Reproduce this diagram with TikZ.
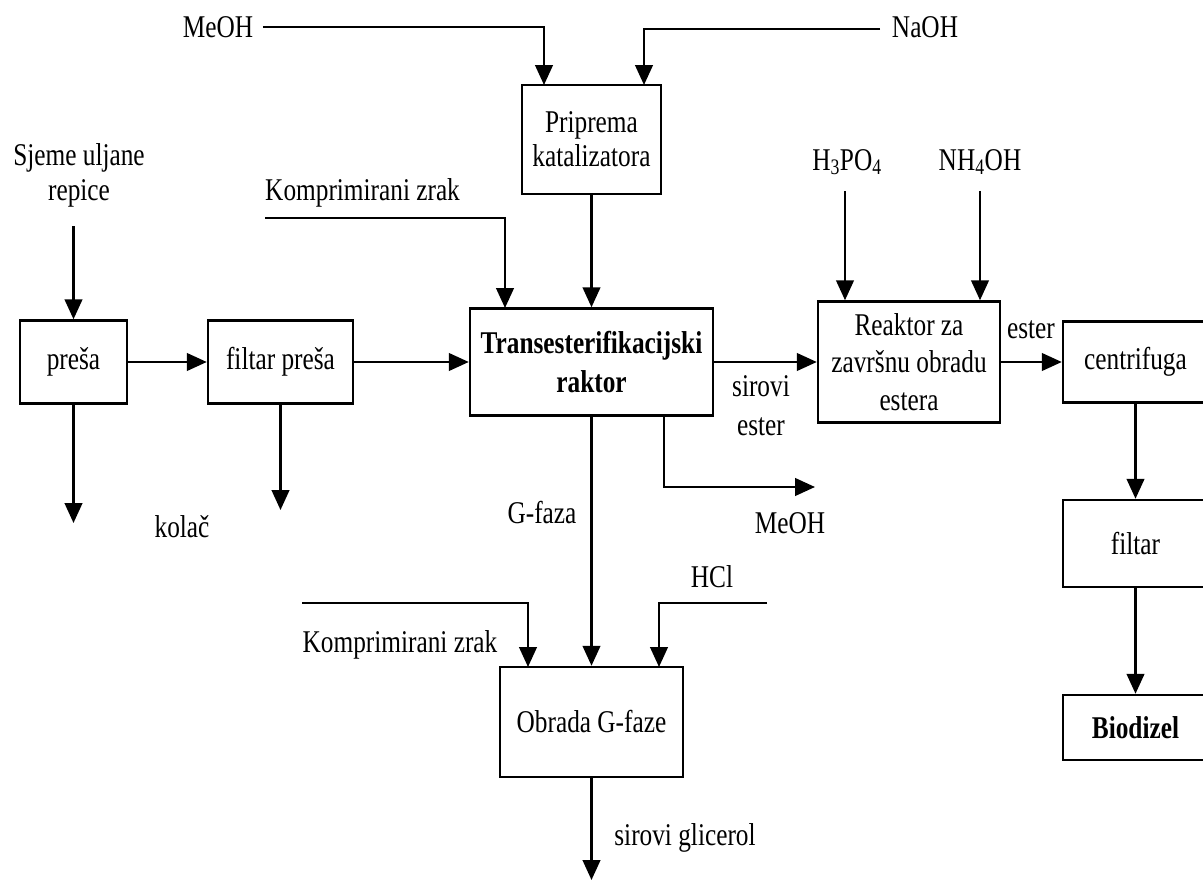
\documentclass[tikz,border=0pt]{standalone}
\usepackage{fontspec}
\setmainfont{Liberation Serif}[FakeStretch=0.8]
\usetikzlibrary{arrows.meta,calc}
\begin{document}
\begin{tikzpicture}[x=0.03cm,y=-0.03cm,
  txt/.style={font=\fontsize{27}{29}\selectfont},
  box/.style={txt,draw,line width=2.1pt,align=center,inner sep=0pt},
  lbl/.style={txt,align=center,inner sep=0pt},
  arr/.style={line width=2pt,-{Triangle[width=15pt,length=17pt]}}]
\clip (0,0) rectangle (1203,881);
\fill[white] (0,0) rectangle (1203,881);

% boxes
\node[box,minimum width=4.17cm,minimum height=3.27cm] (prip) at (591.5,139.5) {Priprema\\katalizatora};
\node[box,minimum width=3.21cm,minimum height=2.49cm] (presa) at (73.5,362) {preša};
\node[box,minimum width=4.35cm,minimum height=2.49cm] (filt) at (280.5,362) {filtar preša};
\node[box,minimum width=7.29cm,minimum height=3.21cm,font=\fontsize{27}{34}\selectfont\bfseries] (trans) at (591.5,362) {Transesterifikacijski\\raktor};
\node[box,minimum width=5.46cm,minimum height=3.63cm,font=\fontsize{27}{32}\selectfont] (reak) at (909,362) {Reaktor za\\završnu obradu\\estera};
\node[box,minimum width=5.49cm,minimum height=3.30cm] (obr) at (591.5,722) {Obrada G-faze};
\node[box,minimum width=4.35cm,minimum height=2.43cm] (centr) at (1135.5,362) {centrifuga};
\node[box,minimum width=4.35cm,minimum height=2.61cm] (filtar) at (1135.5,543.5) {filtar};
\node[box,minimum width=4.35cm,minimum height=1.95cm,font=\fontsize{27}{29}\selectfont\bfseries] (bio) at (1135.5,727.5) {Biodizel};

% labels
\node[lbl] (meoh) at (218,27) {MeOH};
\node[lbl] (naoh) at (925,27) {NaOH};
\node[lbl,font=\fontsize{27}{30}\selectfont] (sjeme) at (79,175) {Sjeme uljane\\repice};
\node[lbl,anchor=west] (kz1) at (265,193) {Komprimirani zrak};
\node[lbl] (h3po4) at (847,162) {H\textsubscript{3}PO\textsubscript{4}};
\node[lbl] (nh4oh) at (980,162) {NH\textsubscript{4}OH};
\node[lbl,font=\fontsize{27}{33}\selectfont] (sester) at (761,406) {sirovi\\ester};
\node[lbl] (ester) at (1031,330) {ester};
\node[lbl] (kolac) at (182,527) {kolač};
\node[lbl] (gfaza) at (542,513) {G-faza};
\node[lbl] (meoh2) at (790,523) {MeOH};
\node[lbl] (hcl) at (712,577) {HCl};
\node[lbl] (kz2) at (400,645) {Komprimirani zrak};
\node[lbl] (glic) at (685,838) {sirovi glicerol};

% free ends and feed points
\coordinate (pA) at (544,85);
\coordinate (pB) at (644,85);
\coordinate (k1s) at (265,218);
\coordinate (pC) at (505,308);
\coordinate (presaout) at (73.5,523);
\coordinate (filtout) at (280.5,510);
\coordinate (tm) at (664,415);
\coordinate (meohout) at (815,487);
\coordinate (k2s) at (302,603);
\coordinate (pD) at (528,667);
\coordinate (h1s) at (767,603);
\coordinate (pE) at (659,667);
\coordinate (glyout) at (591.5,880);
\coordinate (naohs) at (880,29);

% connectors
\draw[arr] ([xshift=8pt]meoh.east) -| (pA);
\draw[arr] (naohs) -| (pB);
\draw[arr] (prip.south) -- (trans.north);
\draw[arr] (k1s) -| (pC);
\draw[arr] ($(sjeme.south -| presa.north)+(0,19)$) -- (presa.north);
\draw[arr] (presa.south) -- (presaout);
\draw[arr] (filt.south) -- (filtout);
\draw[arr] (presa.east) -- (filt.west);
\draw[arr] (filt.east) -- (trans.west);
\draw[arr] (trans.east) -- (reak.west);
\draw[arr] (reak.east) -- (centr.west);
\draw[arr] (tm) |- (meohout);
\draw[arr] (trans.south) -- (obr.north);
\draw[arr] (k2s) -| (pD);
\draw[arr] (h1s) -| (pE);
\draw[arr] (obr.south) -- (glyout);
\draw[arr] ($(h3po4.south)+(-2,16)$) -- ($(h3po4.south |- reak.north)+(-2,0)$);
\draw[arr] ($(nh4oh.south)+(0,16)$) -- (nh4oh.south |- reak.north);
\draw[arr] (centr.south) -- (filtar.north);
\draw[arr] (filtar.south) -- (bio.north);
\end{tikzpicture}
\end{document}
